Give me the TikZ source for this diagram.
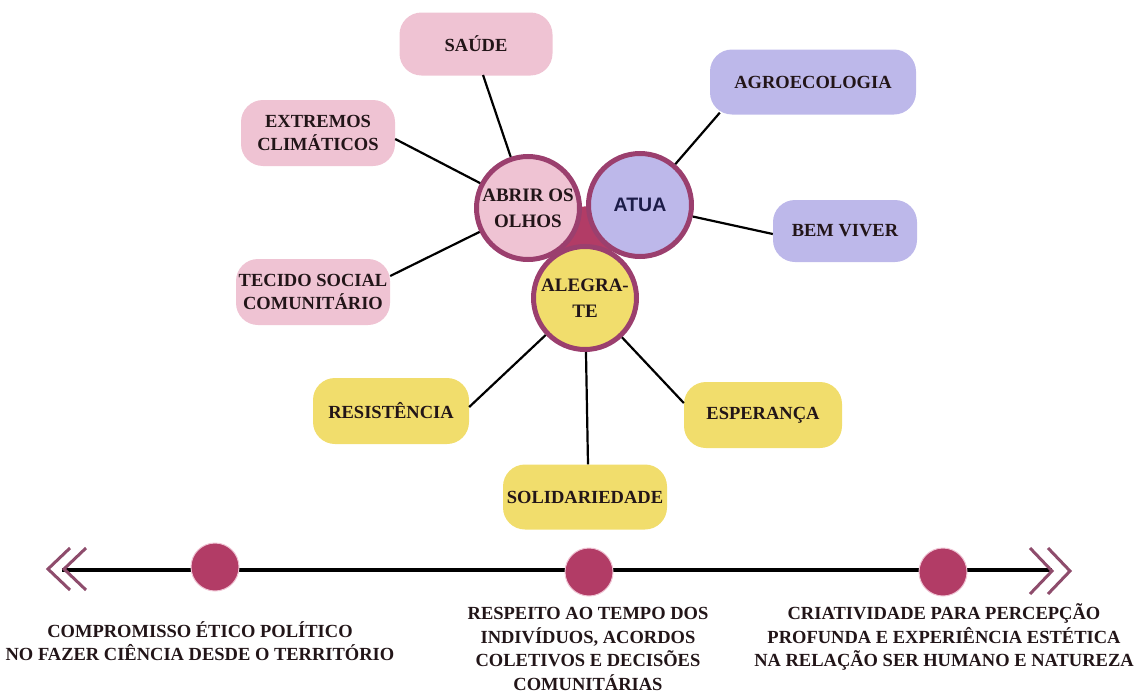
\documentclass[tikz,border=0pt]{standalone}
\usepackage{fontspec}
\setmainfont{Liberation Serif}
\newfontfamily\sansb{Liberation Sans}
\definecolor{pinkbox}{HTML}{EFC3D3}
\definecolor{lavbox}{HTML}{BDB8EA}
\definecolor{yelbox}{HTML}{F1DD6C}
\definecolor{rimc}{HTML}{9B3F6E}
\definecolor{crim}{HTML}{B23C66}
\definecolor{txt}{HTML}{221518}
\definecolor{navy}{HTML}{1C1C48}
\definecolor{chev}{HTML}{8E4C6C}
\begin{document}
\begin{tikzpicture}[x=1pt,y=-1pt,
  lbl/.style={font=\bfseries\fontsize{18.5}{23}\selectfont, text=txt, align=center},
  boxnode/.style={lbl, rounded corners=22pt, inner sep=0pt},
  pinkn/.style={boxnode, fill=pinkbox},
  lavn/.style={boxnode, fill=lavbox},
  yeln/.style={boxnode, fill=yelbox},
  bigc/.style={circle, draw=rimc, line width=5pt, minimum size=103pt, inner sep=0pt, lbl, font=\bfseries\fontsize{19}{26}\selectfont},
  conn/.style={draw=black, line width=2.2pt},
  dotc/.style={circle, fill=crim, draw=pinkbox, line width=1pt, minimum size=48pt, inner sep=0pt},
  tl/.style={lbl, font=\bfseries\fontsize{18.5}{23.5}\selectfont}
]
\useasboundingbox (0,0) rectangle (1138,696);

% boxes
\node[pinkn, minimum width=153pt, minimum height=63pt] (saude) at (476,44) {SAÚDE};
\node[pinkn, minimum width=154pt, minimum height=66pt] (ext) at (318,133) {EXTREMOS\\CLIMÁTICOS};
\node[pinkn, minimum width=154pt, minimum height=66pt] (tec) at (313,292) {TECIDO SOCIAL\\COMUNITÁRIO};
\node[lavn, minimum width=206pt, minimum height=65pt] (agro) at (813,82) {AGROECOLOGIA};
\node[lavn, minimum width=144pt, minimum height=62pt] (bem) at (845,231) {BEM VIVER};
\node[yeln, minimum width=156pt, minimum height=66pt] (res) at (391,411) {RESISTÊNCIA};
\node[yeln, minimum width=158pt, minimum height=66pt] (esp) at (763,415) {ESPERANÇA};
\node[yeln, minimum width=164pt, minimum height=65pt] (sol) at (585,497) {SOLIDARIEDADE};

% central triangle
\fill[crim] (528,208) -- (640,205) -- (585,297) -- cycle;

% circles
\node[bigc, fill=pinkbox] (abrir) at (528,208) {ABRIR OS\\OLHOS};
\node[bigc, fill=lavbox, font=\sansb\bfseries\fontsize{19.5}{24}\selectfont, text=navy] (atua) at (640,205) {ATUA};
\node[bigc, fill=yelbox] (aleg) at (585,298) {ALEGRA-\\TE};

% connectors
\draw[conn] (483,75) -- (abrir);
\draw[conn] (ext.east) ++(0,6) -- (abrir);
\draw[conn] (tec.east) ++(0,-16) -- (abrir);
\draw[conn] (agro.south west) ++(10,-2) -- (atua);
\draw[conn] (bem.west) ++(0,3) -- (atua);
\draw[conn] (res.east) ++(0,-4) -- (aleg);
\draw[conn] (sol.north) ++(3,0) -- (aleg);
\draw[conn] (esp.west) ++(0,-12) -- (aleg);

% timeline
\coordinate (tlL) at (62,570);
\coordinate (tlR) at (1052,570);
\draw[line width=4pt, black] (tlL) -- (tlR);
\draw[chev, line width=3pt] (70,548) -- (48,569) -- (70,590);
\draw[chev, line width=3pt] (86,548) -- (64,569) -- (86,590);
\draw[chev, line width=3pt] (1030,548) -- (1052,571) -- (1030,594);
\draw[chev, line width=3pt] (1048,548) -- (1070,571) -- (1048,594);
\node[dotc] (d1) at (215,567) {};
\node[dotc] (d2) at (589,572) {};
\node[dotc] (d3) at (943,572) {};

% timeline texts
\node[tl] (t1) at (200,641) {COMPROMISSO ÉTICO POLÍTICO\\NO FAZER CIÊNCIA DESDE O TERRITÓRIO};
\node[tl] (t2) at (588,649) {RESPEITO AO TEMPO DOS\\INDIVÍDUOS, ACORDOS\\COLETIVOS E DECISÕES\\COMUNITÁRIAS};
\node[tl] (t3) at (944,637) {CRIATIVIDADE PARA PERCEPÇÃO\\PROFUNDA E EXPERIÊNCIA ESTÉTICA\\NA RELAÇÃO SER HUMANO E NATUREZA};
\end{tikzpicture}
\end{document}
